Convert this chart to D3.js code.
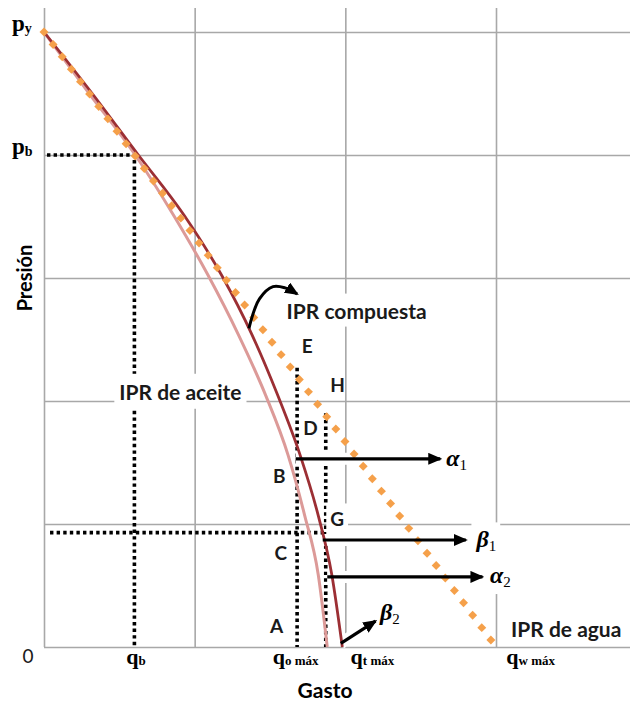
<!DOCTYPE html>
<html>
<head>
<meta charset="utf-8">
<script src="https://cdn.jsdelivr.net/npm/d3@7"></script>
<style>
  body { margin: 0; background: #fff; }
  text { font-family: Lato, "Open Sans", sans-serif; }
</style>
</head>
<body>
<div id="chart"></div>
<script>
// grid steps (arbitrary units: rate on x, pressure on y)
let gridRate = [0, 1, 2, 3];
let gridPres = [0, 1, 2, 3, 4, 5];

// tick labels
let presTicks = [
    {p: 5, main: "p", sub: "y"},
    {p: 4, main: "p", sub: "b"}
];
let rateTicks = [
    {at: 0.61, main: "q", sub: "b"},
    {at: 1.67, main: "q", sub: "o máx"},
    {at: 2.18, main: "q", sub: "t máx"},
    {at: 3.23, main: "q", sub: "w máx"}
];

// key values
let pb = 4, qb = 0.6;
let qoMax = 1.68, qtMax = 1.87, pG = 0.93;
let pE = 2.27, pH = 1.90;

// IPR curves [rate, pressure]
let waterIPR = [[0, 5], [3.0, 0]];
let oilIPR = [[0, 5], [0.30, 4.50], [0.60, 4.01], [0.86, 3.51], [1.09, 3.02], [1.29, 2.54],
              [1.47, 2.05], [1.62, 1.56], [1.73, 1.07], [1.82, 0.59], [1.88, 0]];
let compIPR = [[0, 5], [0.32, 4.50], [0.62, 4.01], [0.93, 3.51], [1.18, 3.02], [1.38, 2.54],
               [1.55, 2.05], [1.70, 1.56], [1.82, 1.07], [1.91, 0.59], [1.98, 0]];

// point letters
let points = [
    {t: "E", q: 1.71, p: 2.39},
    {t: "H", q: 1.90, p: 2.07},
    {t: "D", q: 1.72, p: 1.72},
    {t: "B", q: 1.52, p: 1.33},
    {t: "G", q: 1.90, p: 0.98, pad: 4},
    {t: "C", q: 1.53, p: 0.71},
    {t: "A", q: 1.50, p: 0.11}
];

let curveLabels = [
    {t: "IPR compuesta", q: 1.61, p: 2.67, pad: 4},
    {t: "IPR de aceite", q: 0.50, p: 2.01, pad: 5},
    {t: "IPR de agua", q: 3.10, p: 0.08, pad: 2}
];

// slope arrows
let arrows = [
    {name: "α", idx: "1", from: [1.67, 1.53], to: [2.63, 1.53], lab: [2.67, 1.47]},
    {name: "β", idx: "1", from: [1.85, 0.87], to: [2.80, 0.87], lab: [2.87, 0.81]},
    {name: "α", idx: "2", from: [1.88, 0.57], to: [2.91, 0.57], lab: [2.96, 0.52]},
    {name: "β", idx: "2", from: [1.97, 0.03], to: [2.20, 0.21], lab: [2.23, 0.22]}
];
let bendArrow = [[1.36, 2.59], [1.43, 2.83], [1.52, 2.93], [1.60, 2.92], [1.68, 2.87]];

let svgWidth = 630, svgHeight = 713;

let svg = d3.select("#chart").append("svg")
    .attr("width", svgWidth)
    .attr("height", svgHeight);

let x = d3.scaleLinear().domain([0, 3]).range([44, 496]);
let y = d3.scaleLinear().domain([0, 5]).range([647, 32]);

let defs = svg.append("defs");
defs.append("marker")
    .attr("id", "head")
    .attr("viewBox", "0 0 14 12")
    .attr("markerUnits", "userSpaceOnUse")
    .attr("markerWidth", 14).attr("markerHeight", 12)
    .attr("refX", 12).attr("refY", 6)
    .attr("orient", "auto")
    .append("path").attr("d", "M0,0 L14,6 L0,12 z").attr("fill", "#000");

// grid
let gridV = svg.append("g")
    .attr("transform", `translate(0, ${y(0)})`)
    .call(d3.axisBottom(x).tickValues(gridRate).tickSize(-(y(0) - 8)).tickFormat(""));
let gridH = svg.append("g")
    .attr("transform", `translate(${x(0)}, 0)`)
    .call(d3.axisRight(y).tickValues(gridPres).tickSize(svgWidth - x(0)).tickFormat(""));
[gridV, gridH].forEach(g => {
    g.select(".domain").remove();
    g.selectAll("line").attr("stroke", "#a8a8a8").attr("stroke-width", 1.6);
});

// dotted guide lines
let line = d3.line().x(d => x(d[0])).y(d => y(d[1]));
let guides = [
    [[0.02, pb], [qb, pb], [qb, 0]],
    [[qoMax, pE], [qoMax, 0]],
    [[qtMax, pH], [qtMax, 0]],
    [[0.04, pG], [qtMax, pG]]
];
svg.append("g").selectAll("path")
    .data(guides).enter().append("path")
    .attr("d", line)
    .attr("fill", "none")
    .attr("stroke", "#000")
    .attr("stroke-width", 3.6)
    .attr("stroke-dasharray", "3.4 3.2");

// white patches under labels and arrows
let bgLayer = svg.append("g");
arrows.forEach(a => {
    bgLayer.append("path").datum([a.from, a.to])
        .attr("d", line)
        .attr("stroke", "#fff").attr("stroke-width", 12);
});

// curves
let smooth = d3.line().x(d => x(d[0])).y(d => y(d[1])).curve(d3.curveMonotoneX);

svg.append("path").datum(oilIPR)
    .attr("d", smooth)
    .attr("fill", "none")
    .attr("stroke", "#dc9a98")
    .attr("stroke-width", 3);
svg.append("path").datum(compIPR)
    .attr("d", smooth)
    .attr("fill", "none")
    .attr("stroke", "#9c2f34")
    .attr("stroke-width", 2.8);

// water IPR: diamonds along the path
let waterPath = svg.append("path").datum(waterIPR)
    .attr("d", line)
    .attr("fill", "none")
    .attr("stroke", "none");
let wp = waterPath.node();
let total = wp.getTotalLength();
let steps = d3.range(0, total + 1, 15.4);
let diamond = d3.symbol().type(d3.symbolSquare).size(40);
svg.append("g").selectAll("path")
    .data(steps).enter().append("path")
    .attr("d", diamond)
    .attr("transform", s => {
        let pt = wp.getPointAtLength(s);
        return `translate(${pt.x}, ${pt.y}) rotate(45)`;
    })
    .attr("fill", "#f5a04a");

// arrows
let arrowG = svg.append("g");
arrows.forEach(a => {
    arrowG.append("path").datum([a.from, a.to])
        .attr("d", line)
        .attr("stroke", "#000").attr("stroke-width", 3.2)
        .attr("marker-end", "url(#head)");
});
arrowG.append("path").datum(bendArrow)
    .attr("d", d3.line().x(d => x(d[0])).y(d => y(d[1])).curve(d3.curveCatmullRom))
    .attr("fill", "none")
    .attr("stroke", "#000").attr("stroke-width", 3)
    .attr("marker-end", "url(#head)");

// labels with white patch behind
function addBg(node, pad) {
    let b = node.getBBox();
    bgLayer.append("rect")
        .attr("x", b.x - pad).attr("y", b.y - pad)
        .attr("width", b.width + 2 * pad).attr("height", b.height + 2 * pad)
        .attr("fill", "#fff");
}

let labG = svg.append("g");
curveLabels.forEach(d => {
    let t = labG.append("text")
        .attr("x", x(d.q)).attr("y", y(d.p))
        .attr("font-size", 21).attr("font-weight", "bold")
        .attr("fill", "#1a1a1a")
        .text(d.t);
    addBg(t.node(), d.pad);
});
points.forEach(d => {
    let t = labG.append("text")
        .attr("x", x(d.q)).attr("y", y(d.p))
        .attr("font-size", 19).attr("font-weight", "bold")
        .attr("fill", "#1a1a1a")
        .text(d.t);
    if (d.pad) addBg(t.node(), d.pad);
});
arrows.forEach(a => {
    let t = labG.append("text")
        .attr("x", x(a.lab[0])).attr("y", y(a.lab[1]))
        .style("font-family", "'Liberation Serif', serif");
    t.append("tspan").attr("font-size", 24).attr("font-style", "italic").attr("font-weight", "bold").text(a.name);
    t.append("tspan").attr("font-size", 15).attr("dy", 4).text(a.idx);
    addBg(t.node(), 4);
});

// axis tick labels
presTicks.forEach(d => {
    let t = svg.append("text")
        .attr("x", 12).attr("y", y(d.p) - 1)
        .style("font-family", "'Liberation Serif', serif")
        .attr("font-weight", "bold");
    t.append("tspan").attr("font-size", 23).text(d.main);
    t.append("tspan").attr("font-size", 14).attr("dy", 2).text(d.sub);
});
rateTicks.forEach(d => {
    let t = svg.append("text")
        .attr("x", x(d.at)).attr("y", 664)
        .attr("text-anchor", "middle")
        .style("font-family", "'Liberation Serif', serif")
        .attr("font-weight", "bold");
    t.append("tspan").attr("font-size", 22).text(d.main);
    t.append("tspan").attr("font-size", 13).attr("dy", 1).text(d.sub);
});
svg.append("text")
    .attr("x", 28).attr("y", 663)
    .attr("text-anchor", "middle")
    .attr("font-size", 19)
    .attr("fill", "#1a1a1a")
    .text("0");

// axis titles
svg.append("text")
    .attr("x", 325).attr("y", 698)
    .attr("text-anchor", "middle")
    .attr("font-size", 21).attr("font-weight", "bold")
    .text("Gasto");
svg.append("text")
    .attr("transform", "translate(32, 278) rotate(-90)")
    .attr("text-anchor", "middle")
    .attr("font-size", 20).attr("font-weight", "bold")
    .text("Presión");
</script>
</body>
</html>
